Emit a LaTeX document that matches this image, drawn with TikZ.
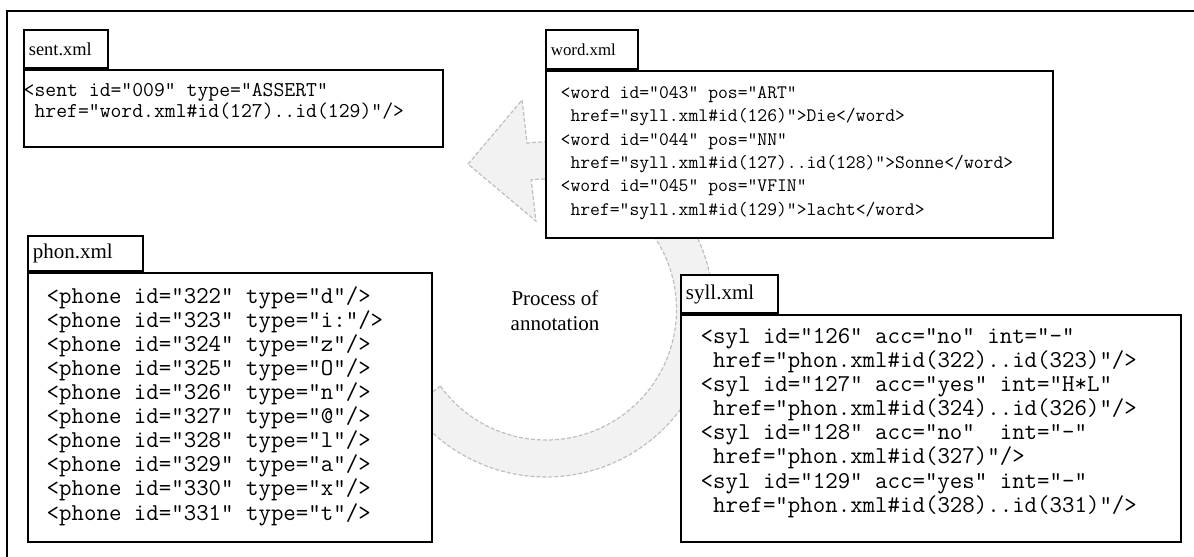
\documentclass[tikz,border=0pt]{standalone}
\usepackage{fontspec}
\setmainfont{Liberation Serif}
\usetikzlibrary{positioning}
\setlength{\lineskiplimit}{-\maxdimen}

\tikzset{
  filebody/.style={draw, line width=1.8bp, fill=white, anchor=north west, inner sep=0pt},
  filetab/.style={draw, line width=1.8bp, fill=white, inner xsep=5bp, inner ysep=0pt, align=left},
  codetext/.style={anchor=north west, inner sep=0pt, align=left},
  cyclearrow/.style={draw=gray!50, fill=black!5, line width=1.2bp, dash pattern=on 4bp off 2bp}
}

\begin{document}
\begin{tikzpicture}[x=1bp, y=1bp]
    \useasboundingbox (0,0) rectangle (1194,557);

    % Outer frame
    \draw[line width=2bp] (7,0) -- (7,546) -- (1194,546);

    % Cycle arrow
    \begin{scope}[shift={(546,247.5)}]
        \draw[cyclearrow] (216:130.5) arc[start angle=216, end angle=456.5, radius=130.5]
            -- (96.5:89) -- (118.2:165) -- (96.5:210.9) -- (96.5:167.5)
            arc[start angle=456.5, end angle=216, radius=167.5] -- cycle;
    \end{scope}
    \node[font=\fontsize{21bp}{25bp}\selectfont, align=center] (process) at (555,246.5) {Process of\\annotation};

    % sent.xml
    \node[filebody, minimum width=419bp, minimum height=77bp] (sentbody) at (23,488) {};
    \node[filetab, text width=74bp, minimum height=38bp, font=\fontsize{18.4bp}{20bp}\selectfont,
          above right=0pt and 0pt of sentbody.north west] (senttab) {sent.xml};
    \node[codetext, font=\fontsize{21.1bp}{21bp}\selectfont\ttfamily] (sentcode) at (23.5,474)
        {<sent id="009" type="ASSERT"\\
         \ href="word.xml\#id(127)..id(129)"/>};

    % word.xml
    \node[filebody, minimum width=507bp, minimum height=167bp] (wordbody) at (545,487) {};
    \node[filetab, text width=82bp, minimum height=39bp, font=\fontsize{16.8bp}{19bp}\selectfont,
          above right=0pt and 0pt of wordbody.north west] (wordtab) {word.xml};
    \node[codetext, font=\fontsize{19.1bp}{23.3bp}\selectfont\ttfamily] (wordcode) at (560.5,470.6)
        {<word id="043" pos="ART"\\
         \ href="syll.xml\#id(126)">Die</word>\\
         <word id="044" pos="NN"\\
         \ href="syll.xml\#id(127)..id(128)">Sonne</word>\\
         <word id="045" pos="VFIN"\\
         \ href="syll.xml\#id(129)">lacht</word>};

    % phon.xml
    \node[filebody, minimum width=404bp, minimum height=269bp] (phonbody) at (27,285) {};
    \node[filetab, text width=105bp, minimum height=35bp, font=\fontsize{21bp}{23bp}\selectfont,
          above right=0pt and 0pt of phonbody.north west] (phontab) {phon.xml};
    \node[codetext, font=\fontsize{24.2bp}{24.1bp}\selectfont\ttfamily] (phoncode) at (46.5,270.8)
        {<phone id="322" type="d"/>\\
         <phone id="323" type="i:"/>\\
         <phone id="324" type="z"/>\\
         <phone id="325" type="O"/>\\
         <phone id="326" type="n"/>\\
         <phone id="327" type="@"/>\\
         <phone id="328" type="l"/>\\
         <phone id="329" type="a"/>\\
         <phone id="330" type="x"/>\\
         <phone id="331" type="t"/>};

    % syll.xml
    \node[filebody, minimum width=500bp, minimum height=227bp] (syllbody) at (680,243) {};
    \node[filetab, text width=87bp, minimum height=38bp, font=\fontsize{21bp}{23bp}\selectfont,
          above right=0pt and 0pt of syllbody.north west] (sylltab) {syll.xml};
    \node[codetext, font=\fontsize{24.2bp}{24.1bp}\selectfont\ttfamily] (syllcode) at (700.5,228.8)
        {<syl id="126" acc="no" int="-"\\
         \ href="phon.xml\#id(322)..id(323)"/>\\
         <syl id="127" acc="yes" int="H*L"\\
         \ href="phon.xml\#id(324)..id(326)"/>\\
         <syl id="128" acc="no"\ \ int="-"\\
         \ href="phon.xml\#id(327)"/>\\
         <syl id="129" acc="yes" int="-"\\
         \ href="phon.xml\#id(328)..id(331)"/>};
\end{tikzpicture}
\end{document}
